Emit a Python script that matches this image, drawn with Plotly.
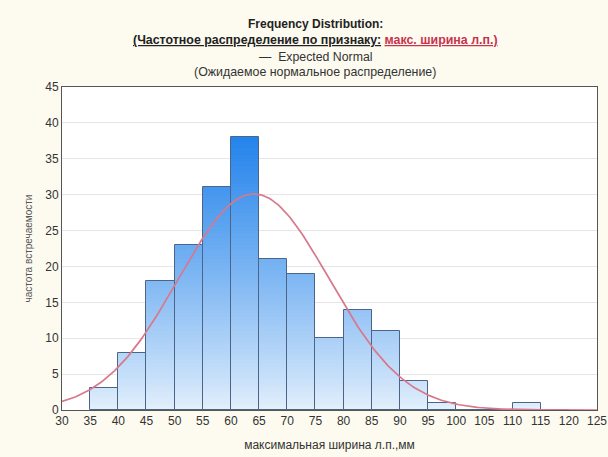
import numpy as np
import plotly.graph_objects as go

# Histogram bins (left edges, width 5 mm) and observed frequencies
bin_left = [35, 40, 45, 50, 55, 60, 65, 70, 75, 80, 85, 90, 95, 100, 105, 110, 115]
counts = [3, 8, 18, 23, 31, 38, 21, 19, 10, 14, 11, 4, 1, 0, 0, 1, 0]
bin_width = 5

x_ticks = list(range(30, 130, 5))
y_ticks = list(range(0, 50, 5))

centers = [b + bin_width / 2 for b in bin_left]

# Expected normal curve fitted from the grouped data
n = sum(counts)
mean = sum(c * m for c, m in zip(counts, centers)) / n
sd = (sum(c * (m - mean) ** 2 for c, m in zip(counts, centers)) / n) ** 0.5
xs = np.linspace(30, 125, 300)
ys = n * bin_width * np.exp(-0.5 * ((xs - mean) / sd) ** 2) / (sd * np.sqrt(2 * np.pi))

# Vertical colour gradient: light at the baseline, saturated blue higher up
light = np.array([228, 240, 252])
dark = np.array([26, 126, 234])


def grad(v):
    t = min(max(v / 40.0, 0.0), 1.0) ** 0.9
    r, g, b = (light + (dark - light) * t).round().astype(int)
    return f"rgb({r},{g},{b})"


step = 0.5
sx, sy, sbase, scol = [], [], [], []
for c, m in zip(centers, counts):
    k = 0.0
    while k < m:
        h = min(m, k + step) - k
        sx.append(c)
        sy.append(h + 0.02)
        sbase.append(k)
        scol.append(grad(k + h / 2))
        k += step

fig = go.Figure()
fig.add_trace(go.Bar(
    x=sx, y=sy, base=sbase, width=bin_width,
    marker=dict(color=scol, line=dict(width=0)),
    hoverinfo="skip", showlegend=False,
))
fig.add_trace(go.Bar(
    x=centers, y=counts, width=bin_width,
    marker=dict(color="rgba(0,0,0,0)", line=dict(color="#4a6588", width=1)),
    showlegend=False,
))
fig.add_trace(go.Scatter(
    x=xs, y=ys, mode="lines",
    line=dict(color="#d8788c", width=1.7),
    showlegend=False,
))

font = "Liberation Sans, Arial, sans-serif"
cx = (315 - 62) / 535
ann = [
    dict(text="<b>Frequency Distribution:</b>", y=24, size=12, color="#222"),
    dict(text="<b><span style='text-decoration:underline'>(Частотное распределение по признаку:</span> "
              "<span style='color:#c8324e;text-decoration:underline'>макс. ширина л.п.)</span></b>",
         y=40, size=12.4, color="#222"),
    dict(text="—  Expected Normal", y=57, size=12.3, color="#333"),
    dict(text="(Ожидаемое нормальное распределение)", y=72, size=12.4, color="#333"),
]
annotations = []
for a in ann:
    annotations.append(dict(
        text=a["text"], xref="paper", yref="paper", x=cx,
        y=1 + (87 - a["y"]) / 323, xanchor="center", yanchor="middle",
        showarrow=False, font=dict(family=font, size=a["size"], color=a["color"]),
    ))

fig.update_layout(
    width=608, height=457,
    margin=dict(l=62, r=11, t=87, b=47),
    paper_bgcolor="#fdfbf0",
    plot_bgcolor="#ffffff",
    barmode="overlay",
    bargap=0,
    font=dict(family=font, size=12, color="#333"),
    annotations=annotations,
    xaxis=dict(
        range=[30, 125], tickvals=x_ticks, ticktext=[str(v) for v in x_ticks],
        showgrid=False, zeroline=False, automargin=False,
        showline=True, linecolor="#555", linewidth=1, mirror=True,
        ticks="", tickfont=dict(size=12, color="#333"),
        title=dict(text="максимальная ширина л.п.,мм", font=dict(size=12, color="#333"), standoff=13),
    ),
    yaxis=dict(
        range=[0, 45], tickvals=y_ticks, ticktext=[str(v) for v in y_ticks],
        showgrid=True, gridcolor="#e6e6e6", gridwidth=1, zeroline=False, automargin=False,
        showline=True, linecolor="#555", linewidth=1, mirror=True,
        ticks="", tickfont=dict(size=12, color="#333"),
        title=dict(text="частота встречаемости", font=dict(size=10, color="#555"), standoff=10),
    ),
)

fig.write_html("out.html")
